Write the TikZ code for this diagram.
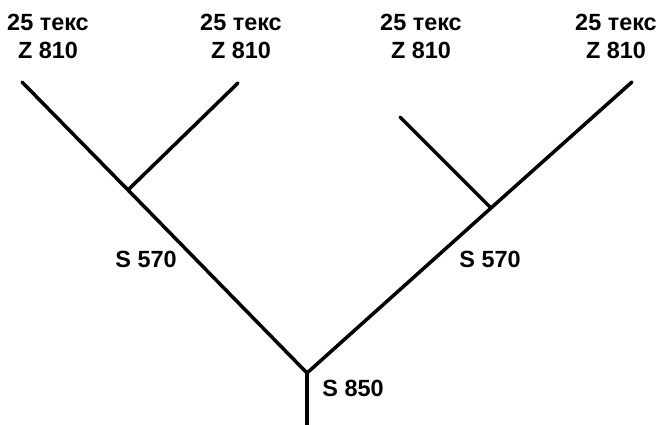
\documentclass[tikz,border=0pt]{standalone}
\usepackage{fontspec}
\setmainfont{Liberation Sans}
\usetikzlibrary{positioning}
\tikzset{
  % filo (ramo dell'albero)
  yarn/.style={line width=3pt, black, line cap=round},
  % etichetta in cima
  toplbl/.style={font=\bfseries\fontsize{20}{24}\selectfont, align=center, inner sep=1pt},
  % etichetta di torsione
  twlbl/.style={font=\bfseries\fontsize{20}{24}\selectfont, inner sep=1pt},
}
\begin{document}
\begin{tikzpicture}[x=0.03cm, y=-0.03cm]
  \useasboundingbox (0,0) rectangle (660,425);
  % punti dell'albero
  \coordinate (root) at (307,425);
  \coordinate (j0) at (307,373);
  \coordinate (jl) at (128,190);
  \coordinate (jr) at (491,208);
  \coordinate (t1) at (22,82);
  \coordinate (t2) at (238,83);
  \coordinate (t3) at (400,117);
  \coordinate (t4) at (632,82);
  % rami
  \draw[yarn] (root) -- (j0);
  \draw[yarn] (j0) -- (jl) -- (t1);
  \draw[yarn] (jl) -- (t2);
  \draw[yarn] (j0) -- (jr) -- (t4);
  \draw[yarn] (jr) -- (t3);
  % etichette
  \node[toplbl] (l1) at (48,36) {25 текс\\Z 810};
  \node[toplbl] (l2) at (241,36) {25 текс\\Z 810};
  \node[toplbl] (l3) at (421,36) {25 текс\\Z 810};
  \node[toplbl] (l4) at (616,36) {25 текс\\Z 810};
  \node[twlbl] (s1) at (146,259) {S 570};
  \node[twlbl] (s2) at (490,259) {S 570};
  \node[twlbl] (s3) at (353,388) {S 850};
\end{tikzpicture}
\end{document}
